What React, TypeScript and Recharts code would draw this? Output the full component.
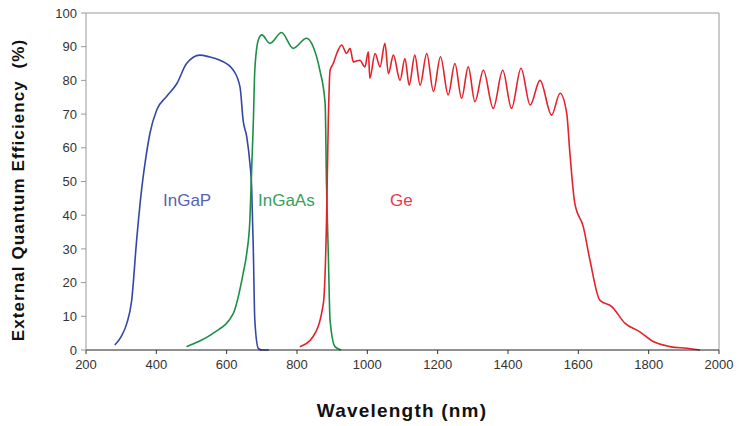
import { LineChart, Line, XAxis, YAxis, ReferenceLine } from 'recharts';

// wavelength (nm) / EQE (%)
const ingapWl = [282, 300, 316, 330, 344, 358, 368, 382, 401, 429, 458, 486, 524, 550, 581, 619, 638, 647, 657, 666, 671, 676, 680, 690, 700, 720];
const ingapEqe = [1.5, 4, 7.9, 14.8, 32.6, 47.5, 55.5, 64.4, 71.2, 75.2, 79, 85, 87.5, 87, 86, 83, 78, 68, 63.3, 55.5, 48.5, 28.7, 8.9, 0.5, 0, 0];

const ingaasWl = [486, 520, 562, 619, 647, 657, 666, 671, 676, 680, 690, 700, 723, 756, 789, 827, 846, 865, 880, 884, 889, 894, 908, 925];
const ingaasEqe = [1, 2.5, 5, 10.9, 22.8, 28.7, 38.6, 53.4, 68.2, 83, 92, 93.5, 91, 94.2, 89.5, 92.5, 90, 83, 73.2, 48.5, 28.7, 8.9, 1, 0];

const geWl = [
  808, 846, 875, 884, 889, 894, 903, 913, 927, 941, 951, 960, 979, 993, 1003, 1007, 1022, 1036, 1050, 1060,
  1074, 1093, 1107, 1119, 1135, 1150, 1169, 1188, 1208, 1230, 1249, 1268, 1287, 1306, 1330, 1358, 1385, 1410,
  1437, 1463, 1491, 1524, 1548, 1567, 1576, 1590, 1614, 1633, 1661, 1695, 1733, 1775, 1813, 1861, 1908, 1946,
];
const geEqe = [
  1, 4, 13.8, 38.6, 68, 83, 85, 88, 90.5, 88, 89.5, 85.5, 86, 84, 88.5, 80.6, 88, 84, 91, 82,
  87.5, 80, 86.5, 78.6, 87.5, 78.6, 88, 76.7, 87, 75.7, 85, 74.7, 84, 73.7, 83, 71.7, 83, 71.7,
  83.6, 72.7, 80, 69.7, 76.2, 70.2, 58.4, 43.5, 36.6, 26.7, 14.8, 12.9, 7.9, 5.4, 2.5, 1, 0.5, 0,
];

const xTicks = [200, 400, 600, 800, 1000, 1200, 1400, 1600, 1800, 2000];
const yTicks = [0, 10, 20, 30, 40, 50, 60, 70, 80, 90, 100];

const toPoints = (wl: number[], eqe: number[]) => wl.map((x, i) => ({ x, y: eqe[i] }));

const FONT = '"Liberation Sans", Arial, sans-serif';
const tickStyle = { fontSize: 13, fill: '#333', fontFamily: FONT };

export default function App() {
  return (
    <div style={{ position: 'absolute', left: 0, top: 0, width: 740, height: 426, background: '#fff', fontFamily: FONT }}>
      <LineChart width={740} height={426} margin={{ top: 13, right: 21, bottom: 46, left: 46 }}>
        <XAxis
          type="number"
          dataKey="x"
          domain={[200, 2000]}
          ticks={xTicks}
          tick={tickStyle}
          tickSize={4}
          tickMargin={6}
          height={30}
          stroke="#333"
          axisLine={{ stroke: '#222' }}
          allowDuplicatedCategory={false}
        />
        <YAxis
          type="number"
          domain={[0, 100]}
          ticks={yTicks}
          tick={tickStyle}
          tickSize={5}
          tickMargin={4}
          width={40}
          stroke="#999"
        />
        <ReferenceLine y={100} stroke="#999" />
        <ReferenceLine x={2000} stroke="#999" />
        <Line data={toPoints(ingapWl, ingapEqe)} dataKey="y" type="monotone" stroke="#3447a8" strokeWidth={1.6} dot={false} isAnimationActive={false} />
        <Line data={toPoints(ingaasWl, ingaasEqe)} dataKey="y" type="monotone" stroke="#1b8f45" strokeWidth={1.6} dot={false} isAnimationActive={false} />
        <Line data={toPoints(geWl, geEqe)} dataKey="y" type="monotone" stroke="#e4222b" strokeWidth={1.6} dot={false} isAnimationActive={false} />
      </LineChart>
      <div style={{ position: 'absolute', left: 163, top: 191, fontSize: 17, color: '#5563b3' }}>InGaP</div>
      <div style={{ position: 'absolute', left: 258, top: 191, fontSize: 17, color: '#35a060' }}>InGaAs</div>
      <div style={{ position: 'absolute', left: 390, top: 191, fontSize: 17, color: '#e63a48' }}>Ge</div>
      <div
        style={{
          position: 'absolute',
          left: 402,
          top: 411,
          transform: 'translate(-50%, -50%)',
          whiteSpace: 'nowrap',
          fontSize: 19,
          letterSpacing: 1.2,
          fontWeight: 'bold',
          color: '#111',
        }}
      >
        Wavelength (nm)
      </div>
      <div
        style={{
          position: 'absolute',
          left: 19,
          top: 190,
          transform: 'translate(-50%, -50%) rotate(-90deg)',
          whiteSpace: 'nowrap',
          fontSize: 17,
          letterSpacing: 1.1,
          fontWeight: 'bold',
          color: '#111',
        }}
      >
        External Quantum Efficiency&nbsp; (%)
      </div>
    </div>
  );
}
